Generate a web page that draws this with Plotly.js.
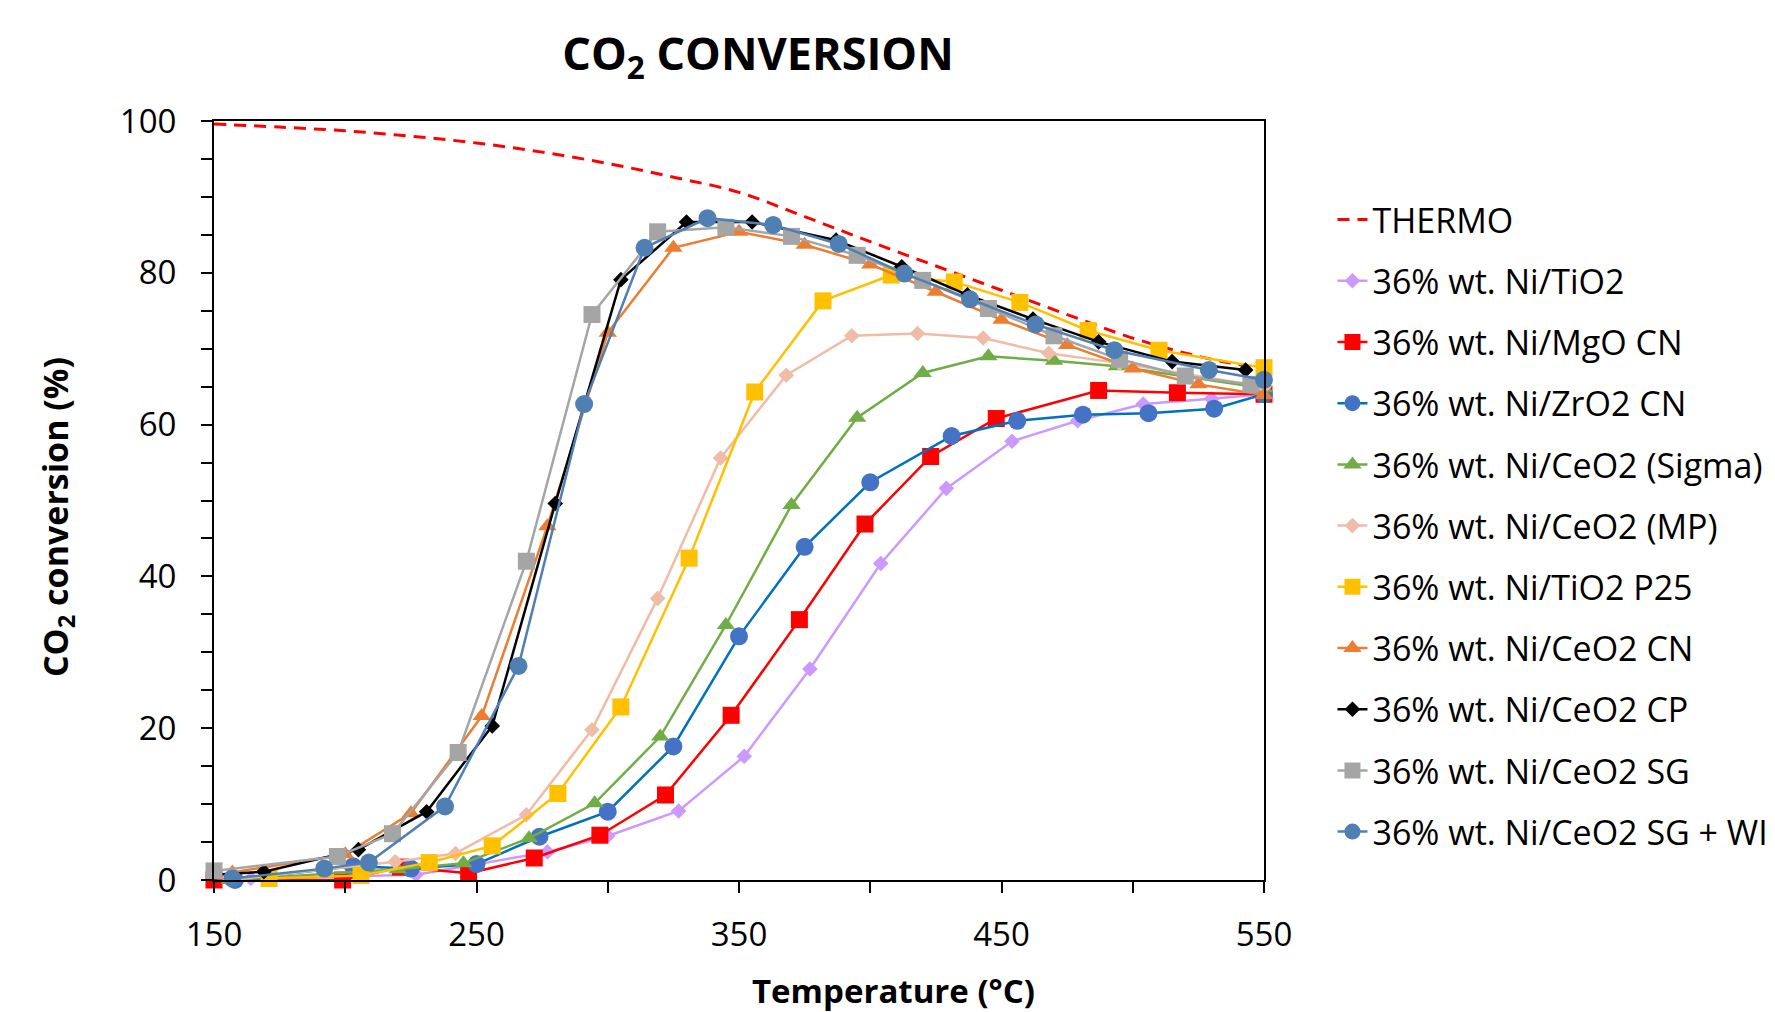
<!DOCTYPE html>
<html>
<head>
<meta charset="utf-8">
<script src="https://cdn.plot.ly/plotly-3.0.1.min.js"></script>
<style>html,body{margin:0;padding:0;background:#fff;}#chart{width:1775px;height:1012px;}</style>
</head>
<body>
<div id="chart"></div>
<script>
// ---- Data ----
const thermoT = [150,175,200,225,250,275,300,325,350,375,400,425,450,475,500,525,550];
const thermoV = [99.6,99.2,98.7,98.0,97.1,95.9,94.4,92.6,90.6,87.4,84.1,80.9,77.7,74.5,71.4,69.0,67.3];

const tio2T = [164,227,277,300,327,352,377,404,429,454,479,504,530,550];
const tio2V = [0.2,0.7,3.7,5.8,9.1,16.3,27.8,41.7,51.6,57.8,60.5,62.7,63.4,64.0];

const mgoT = [150,199,221,247,272,297,322,347,373,398,423,448,487,517,550];
const mgoV = [0.0,0.0,1.7,0.9,2.9,5.9,11.2,21.7,34.3,46.9,55.8,60.8,64.5,64.2,64.0];

const zro2T = [158,203,225,250,274,300,325,350,375,400,431,456,481,506,531,550];
const zro2V = [0.0,1.8,1.5,2.1,5.7,9.0,17.6,32.1,43.9,52.4,58.5,60.5,61.3,61.5,62.1,64.0];

const sigmaT = [156,220,245,270,295,320,345,370,395,420,445,470,494,550];
const sigmaV = [0.0,1.4,2.2,5.5,10.1,18.9,33.6,49.4,60.9,66.8,69.0,68.4,67.7,64.8];

const mpT = [156,219,242,269,294,319,343,368,393,418,443,468,495,550];
const mpV = [0.0,2.4,3.5,8.6,19.8,37.1,55.6,66.5,71.7,72.0,71.4,69.4,68.1,65.0];

const p25T = [171,206,232,256,281,305,331,356,382,408,432,457,483,510,550];
const p25V = [0.2,0.6,2.3,4.5,11.4,22.8,42.4,64.3,76.3,79.7,78.8,76.1,72.4,69.8,67.5];

const cnT = [157,200,225,252,277,300,325,350,375,400,425,450,475,500,525,550];
const cnV = [1.0,3.4,8.8,21.6,46.6,72.1,83.3,85.4,83.7,81.1,77.5,73.8,70.5,67.4,65.3,63.9];

const cpT = [150,169,205,231,256,280,305,330,355,387,412,437,462,487,515,543];
const cpV = [0.7,1.1,4.0,9.0,20.3,49.6,79.1,86.7,86.7,84.3,80.8,77.1,73.9,70.9,68.3,67.2];

const sgT = [150,197,218,243,269,294,319,345,370,395,420,445,470,495,520,545];
const sgV = [1.2,3.1,6.1,16.8,42.0,74.5,85.4,86.0,84.8,82.3,79.0,75.3,71.7,68.6,66.4,65.3];

const sgwiT = [157,192,209,238,266,291,314,338,363,388,413,438,463,493,529,550];
const sgwiV = [0.2,1.5,2.3,9.7,28.2,62.7,83.3,87.2,86.3,83.8,79.9,76.5,73.2,69.8,67.2,65.9];

const xTickVals = [150,250,350,450,550];
const yTickVals = [0,20,40,60,80,100];

// ---- Traces ----
const FONT = 'Open Sans, Noto Sans, sans-serif';
function series(name, xs, ys, color, symbol, size, mcolor) {
  return {
    type: 'scatter', mode: 'lines+markers', name: name, legendgroup: name,
    x: xs, y: ys,
    line: {color: color, width: 2.5},
    marker: {symbol: symbol, size: size, color: mcolor || color, line: {width: 0}},
    cliponaxis: false
  };
}
const data = [
  {type:'scatter', mode:'lines', name:'THERMO', legendgroup:'THERMO', x: thermoT, y: thermoV,
   line:{color:'#FF0000', width:3, dash:'12px,8px', shape:'spline'}},
  series('36% wt. Ni/TiO2', tio2T, tio2V, '#CC99FF', 'diamond', 12),
  series('36% wt. Ni/MgO CN', mgoT, mgoV, '#FF0000', 'square', 17),
  series('36% wt. Ni/ZrO2 CN', zro2T, zro2V, '#0070C0', 'circle', 18, '#4472C4'),
  series('36% wt. Ni/CeO2 (Sigma)', sigmaT, sigmaV, '#70AD47', 'triangle-up', 16),
  series('36% wt. Ni/CeO2 (MP)', mpT, mpV, '#F0BCA8', 'diamond', 12),
  series('36% wt. Ni/TiO2 P25', p25T, p25V, '#FFC000', 'square', 17),
  series('36% wt. Ni/CeO2 CN', cnT, cnV, '#ED7D31', 'triangle-up', 16),
  series('36% wt. Ni/CeO2 CP', cpT, cpV, '#000000', 'diamond', 12),
  series('36% wt. Ni/CeO2 SG', sgT, sgV, '#A5A5A5', 'square', 17),
  series('36% wt. Ni/CeO2 SG + WI', sgwiT, sgwiV, '#4F7FB3', 'circle', 18)
];

const L = 214, R = 1264.5, T = 121, B = 880;
const W = 1775, H = 1012;
const pw = R - L, ph = B - T;
function px2paperX(px){ return (px - L) / pw; }
function px2paperY(py){ return (B - py) / ph; }

const layout = {
  width: W, height: H,
  margin: {l: L, r: W - R, t: T, b: H - B, pad: 0, autoexpand: false},
  paper_bgcolor: '#FFFFFF', plot_bgcolor: '#FFFFFF',
  showlegend: true,
  font: {family: FONT, color: '#000000'},
  title: {
    text: 'CO<sub>2</sub> CONVERSION',
    font: {family: FONT, size: 45, weight: 700, color: '#000000'},
    xref: 'container', yref: 'container',
    x: 758 / W, xanchor: 'center',
    y: 1 - 54 / H, yanchor: 'middle'
  },
  xaxis: {
    range: [150, 550], tickvals: xTickVals, ticktext: xTickVals.map(String),
    showgrid: false, zeroline: false,
    showline: true, linecolor: '#000000', linewidth: 2, mirror: true,
    ticks: 'outside', ticklen: 11, tickwidth: 2, tickcolor: '#000000',
    minor: {tick0: 150, dtick: 50, ticks: 'outside', ticklen: 11, tickwidth: 2, tickcolor: '#000000', showgrid: false},
    tickfont: {family: FONT, size: 33, color: '#000000'},
    ticklabelstandoff: 13
  },
  yaxis: {
    range: [0, 100], tickvals: yTickVals, ticktext: yTickVals.map(String),
    showgrid: false, zeroline: false,
    showline: true, linecolor: '#000000', linewidth: 2, mirror: true,
    ticks: 'outside', ticklen: 11, tickwidth: 2, tickcolor: '#000000',
    minor: {tick0: 0, dtick: 5, ticks: 'outside', ticklen: 11, tickwidth: 2, tickcolor: '#000000', showgrid: false},
    tickfont: {family: FONT, size: 33, color: '#000000'},
    ticklabelstandoff: 18
  },
  legend: {
    x: px2paperX(1333), xanchor: 'left',
    y: px2paperY(191), yanchor: 'top',
    font: {family: FONT, size: 34, color: '#000000'},
    tracegroupgap: 14,
    bgcolor: 'rgba(0,0,0,0)', borderwidth: 0
  },
  annotations: [
    {text: '<b>Temperature (°C)</b>', xref: 'paper', yref: 'paper',
     x: px2paperX(894), y: px2paperY(990), xanchor: 'center', yanchor: 'middle',
     showarrow: false, font: {family: FONT, size: 33, color: '#000000'}},
    {text: '<b>CO<sub>2</sub> conversion (%)</b>', xref: 'paper', yref: 'paper',
     x: px2paperX(57), y: px2paperY(517), xanchor: 'center', yanchor: 'middle',
     textangle: -90, showarrow: false, font: {family: FONT, size: 34, color: '#000000'}}
  ]
};

Plotly.newPlot('chart', data, layout, {displayModeBar: false, staticPlot: true});
</script>
</body>
</html>
